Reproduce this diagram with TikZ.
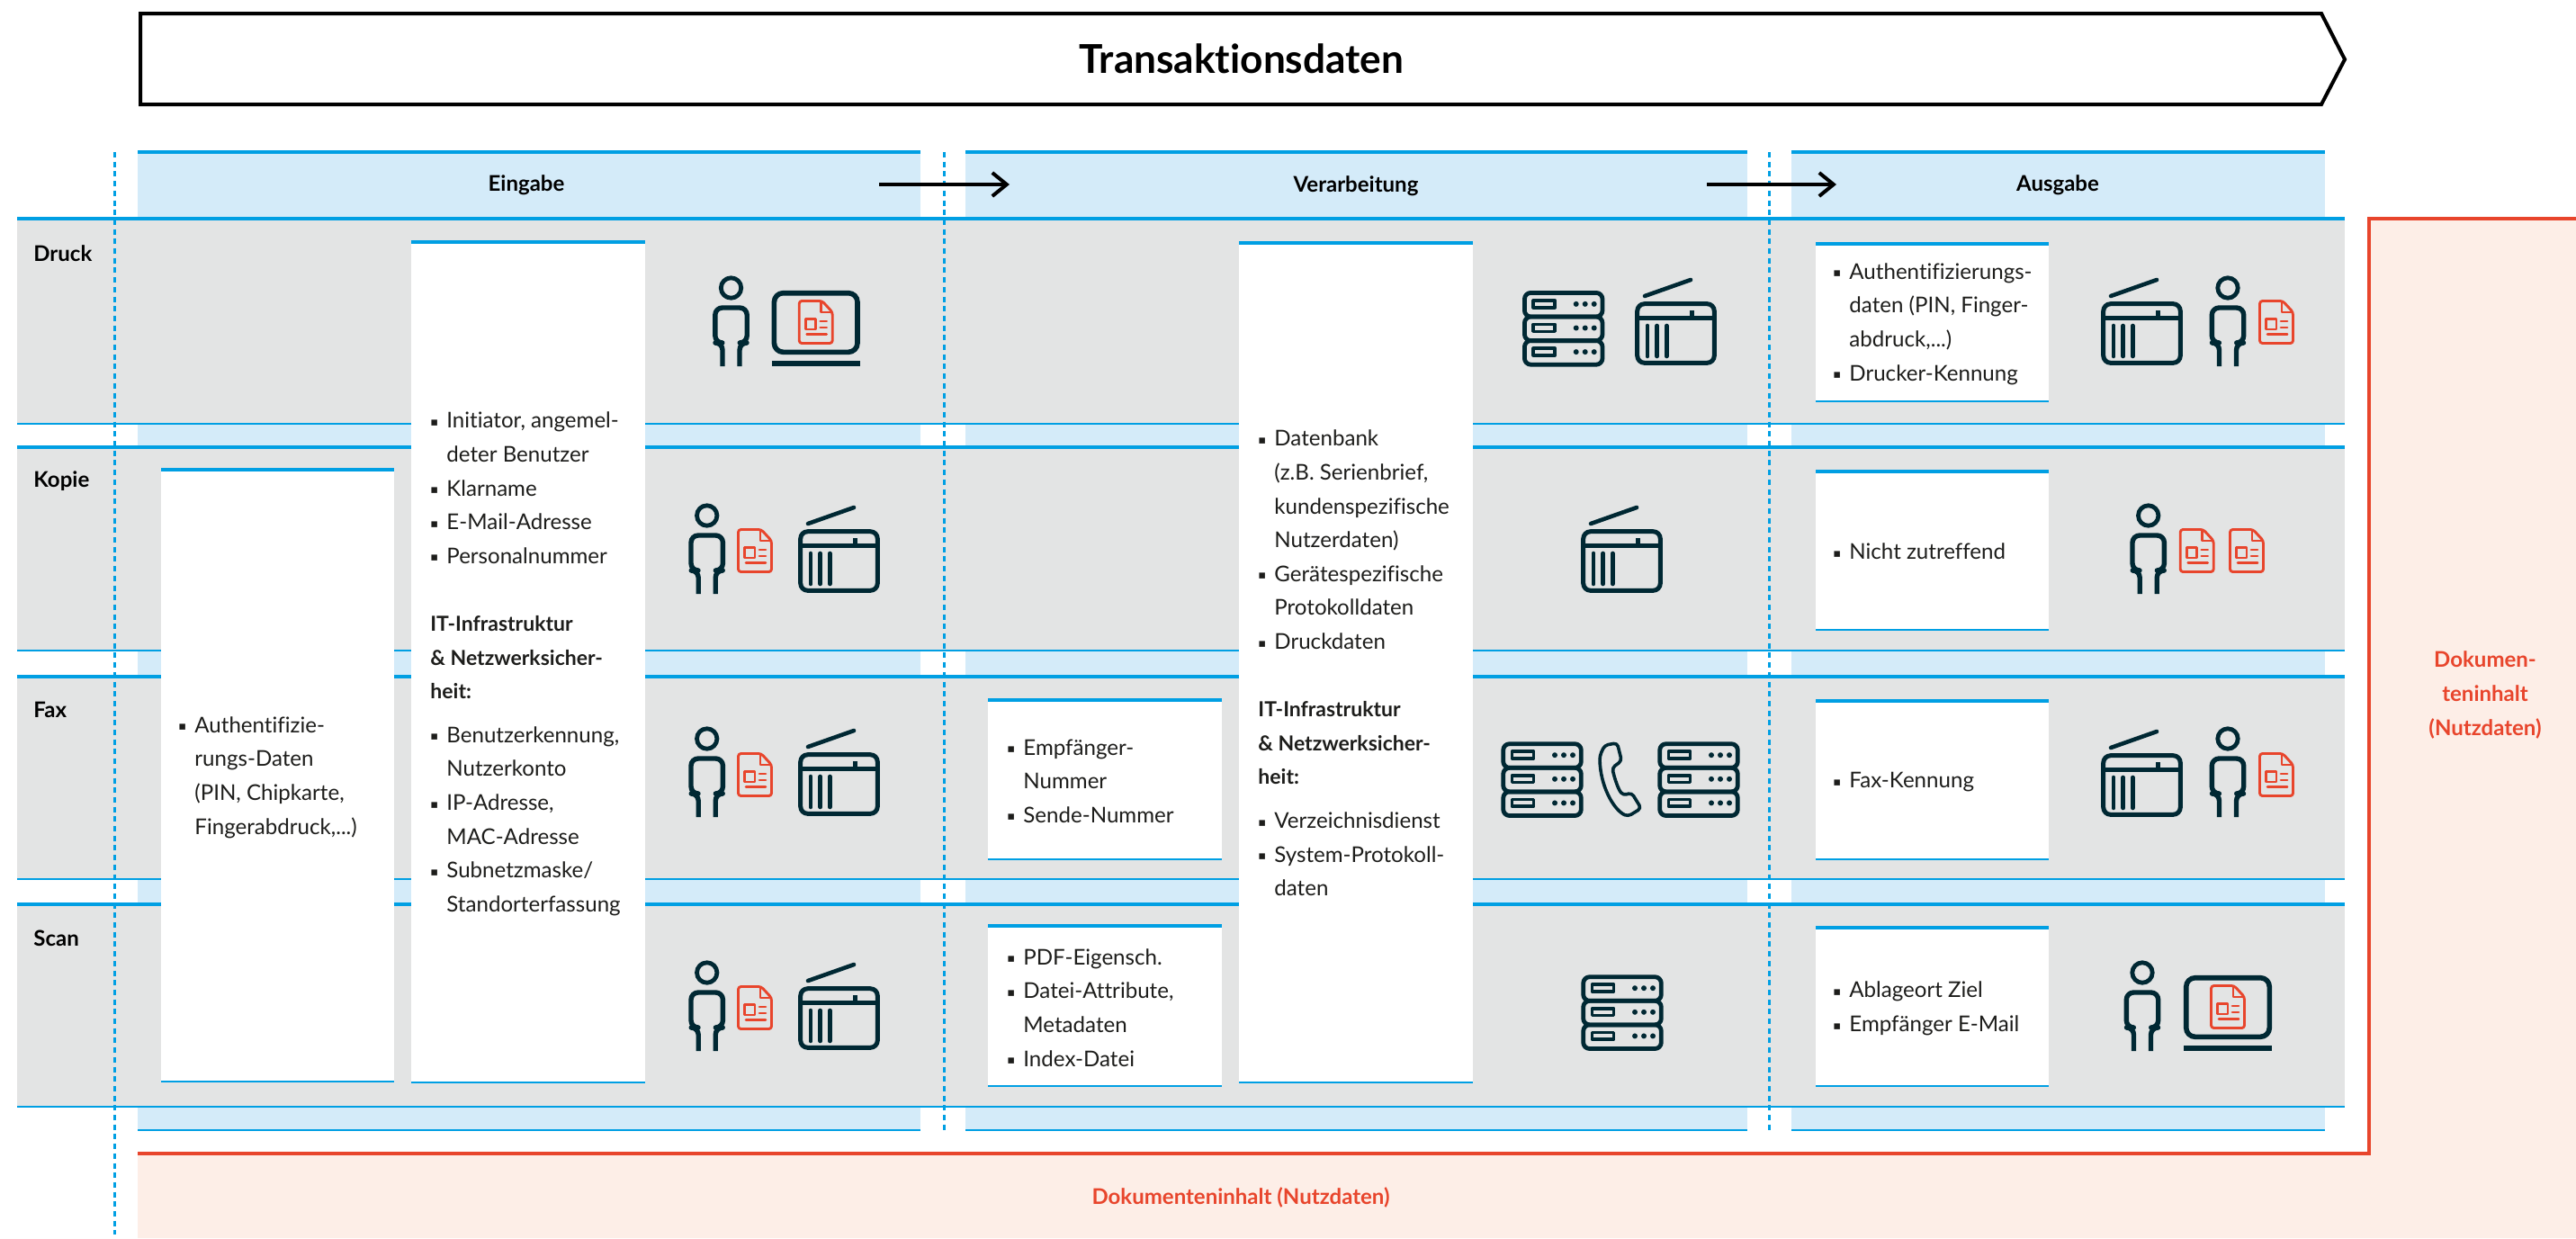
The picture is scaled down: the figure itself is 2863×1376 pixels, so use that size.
\documentclass[tikz,border=0pt]{standalone}
\usepackage{fontspec}
\setmainfont{Lato}[Ligatures=CommonOff]
\newfontfamily\djfont{DejaVu Sans}
\usetikzlibrary{arrows.meta}
\definecolor{cblue}{HTML}{009FE3}
\definecolor{clight}{HTML}{D4EBF9}
\definecolor{cgray}{HTML}{E3E4E4}
\definecolor{cpale}{HTML}{FDEEE7}
\definecolor{cred}{HTML}{E8452C}
\definecolor{cdark}{HTML}{002833}
\definecolor{ctext}{HTML}{1D1D1B}
\newcommand{\bu}{\makebox[9pt][l]{\raisebox{1.2pt}{\djfont\fontsize{6.5}{6.5}\selectfont ▪}}}
\newcommand{\ind}{\hspace*{9pt}}
\newcommand{\bh}[1]{{\fontsize{11.5}{18.8}\selectfont\bfseries #1}}
\tikzset{
  body/.style={anchor=west,inner sep=0pt,align=left,text=ctext,font=\fontsize{12.05}{18.8}\selectfont},
  lab/.style={inner sep=0pt,text=black,font=\fontsize{12}{18.8}\selectfont\bfseries},
  redlab/.style={inner sep=0pt,align=center,text=cred,font=\fontsize{12}{19}\selectfont\bfseries},
  icon/.style={draw=cdark,line width=2.5pt,line join=round},
  iconthin/.style={draw=cdark,line width=1.8pt,line join=round},
  docline/.style={draw=cred,line width=1.45pt,line join=round},
  pics/person/.style={code={
    \draw[icon,line width=2.4pt] (0,13) circle[radius=5.6pt];
    \draw[icon,line width=2.7pt,rounded corners=4pt] (-9.5,100) -- (-9.5,74) -- (-17.7,74) -- (-17.7,35) -- (17.7,35) -- (17.7,74) -- (9.5,74) -- (9.5,100);
  }},
  pics/docu/.style={code={
    \draw[docline,rounded corners=1.5pt] (1.5,1.5) -- (27,1.5) -- (38.5,14) -- (38.5,48.5) -- (1.5,48.5) -- cycle;
    \draw[docline] (26,1.5) -- (26,14) -- (38.5,14);
    \draw[docline] (8.5,21.5) rectangle (20,33);
    \draw[docline,line cap=round] (25,24) -- (32,24) (25,31) -- (32,31) (10,38.5) -- (32,38.5);
  }},
  pics/laptop/.style={code={
    \draw[icon,line width=2.8pt,rounded corners=5pt] (2.7,2.7) rectangle (95.3,68.3);
    \fill[cdark] (0,78) rectangle (98,84);
    \path (29,10) pic {docu};
  }},
  pics/scanner/.style={code={
    \draw[icon,rounded corners=4pt] (2.7,28.7) rectangle (88.3,94.3);
    \draw[icon] (2.7,44) -- (88.3,44) (63,36) -- (63,44);
    \draw[icon,line width=2.3pt,line cap=round] (11,20) -- (62,2);
    \draw[icon,line width=2.3pt,line cap=round] (14,53) -- (14,87) (24.7,53) -- (24.7,87) (35.3,53) -- (35.3,87);
  }},
  pics/server/.style={code={
    \foreach \yy in {0,26.6,53.2}{
      \begin{scope}[shift={(0,\yy)}]
        \draw[icon,line width=2.4pt,rounded corners=3.5pt] (2.7,2.7) rectangle (89.3,29.3);
        \draw[iconthin] (12.5,11.2) rectangle (36.5,19);
        \foreach \xx in {60,70,80}{\fill[cdark] (\xx,15.2) circle[radius=1.5pt];}
      \end{scope}
    }
  }},
}
\begin{document}
\begin{tikzpicture}[x=0.5pt,y=-0.5pt]
\useasboundingbox (0,0) rectangle (2863,1376);
% red zone
\fill[cpale] (153,1282) -- (2633,1282) -- (2633,243) -- (2863,243) -- (2863,1376) -- (153,1376) -- cycle;
\draw[cred,line width=2pt,line join=miter] (153,1282) -- (2633,1282) -- (2633,243) -- (2863,243);
% column backgrounds
\foreach \xa/\xb in {153/1023,1073/1942,1991/2584}{
  \fill[clight] (\xa,169) rectangle (\xb,1256);
  \draw[cblue,line width=1.8pt] (\xa,169) -- (\xb,169);
  \draw[cblue,line width=1pt] (\xa,1256) -- (\xb,1256);
}
% rows
\foreach \ya/\yb in {243/471,497/723,752/977,1005/1230}{
  \fill[cgray] (19,\ya) rectangle (2606,\yb);
  \draw[cblue,line width=1.8pt] (19,\ya) -- (2606,\ya);
  \draw[cblue,line width=1pt] (19,\yb) -- (2606,\yb);
}
% white boxes
\foreach \xa/\xb/\ya/\yb in {179/438/522/1202,457/717/269/1203,1377/1637/270/1203,1098/1358/778/955,1098/1358/1029/1207,2018/2277/271/446,2018/2277/524/700,2018/2277/779/955,2018/2277/1031/1207}{
  \fill[white] (\xa,\ya) rectangle (\xb,\yb);
  \draw[cblue,line width=1.8pt] (\xa,\ya) -- (\xb,\ya);
  \draw[cblue,line width=1pt] (\xa,\yb) -- (\xb,\yb);
}
% dashed separators
\foreach \xx/\yy in {127.7/1372,1049/1257,1966/1257}{
  \draw[cblue,line width=1.5pt,dash pattern=on 3pt off 2.35pt] (\xx,169) -- (\xx,\yy);
}
% title
\draw[black,line width=2pt,line join=miter,fill=white] (156,15) -- (2580,15) -- (2606,66) -- (2580,116) -- (156,116) -- cycle;
\node[inner sep=0pt,text=black,font=\fontsize{22.1}{26}\selectfont\bfseries] (title) at (1380,65) {Transaktionsdaten};
% arrows
\coordinate (a1s) at (977,205); \coordinate (a1e) at (1122,205);
\coordinate (a2s) at (1897,205); \coordinate (a2e) at (2041,205);
\draw[black,line width=2pt,-{Straight Barb[length=8pt,width=13pt]}] (a1s) -- (a1e);
\draw[black,line width=2pt,-{Straight Barb[length=8pt,width=13pt]}] (a2s) -- (a2e);
% headers
\node[lab] (h1) at (585,206) {Eingabe};
\node[lab] (h2) at (1507,207) {Verarbeitung};
\node[lab] (h3) at (2287,206) {Ausgabe};
% row labels
\node[lab,anchor=west] (r1) at (37,282) {Druck};
\node[lab,anchor=west] (r2) at (37,535) {Kopie};
\node[lab,anchor=west] (r3) at (37,789) {Fax};
\node[lab,anchor=west] (r4) at (37,1043) {Scan};
% box texts
\node[body] (ta) at (198,864) {\bu Authentifizie-\\\ind rungs-Daten\\\ind (PIN, Chipkarte,\\\ind Fingerabdruck,...)};
\node[body] (tb) at (478,738) {\bu Initiator, angemel-\\\ind deter Benutzer\\\bu Klarname\\\bu E-Mail-Adresse\\\bu Personalnummer\\[18.8pt]\bh{IT-Infrastruktur}\\\bh{\& Netzwerksicher-}\\\bh{heit:}\\[5.5pt]\bu Benutzerkennung,\\\ind Nutzerkonto\\\bu IP-Adresse,\\\ind MAC-Adresse\\\bu Subnetzmaske/\\\ind Standorterfassung};
\node[body] (tc) at (1398,737) {\bu Datenbank\\\ind (z.B. Serienbrief,\\\ind kundenspezifische\\\ind Nutzerdaten)\\\bu Gerätespezifische\\\ind Protokolldaten\\\bu Druckdaten\\[18.8pt]\bh{IT-Infrastruktur}\\\bh{\& Netzwerksicher-}\\\bh{heit:}\\[5.5pt]\bu Verzeichnisdienst\\\bu System-Protokoll-\\\ind daten};
\node[body] (td) at (1119,868) {\bu Empfänger-\\\ind Nummer\\\bu Sende-Nummer};
\node[body] (te) at (1119,1120) {\bu PDF-Eigensch.\\\bu Datei-Attribute,\\\ind Metadaten\\\bu Index-Datei};
\node[body] (tf) at (2037,360) {\bu Authentifizierungs-\\\ind daten (PIN, Finger-\\\ind abdruck,...)\\\bu Drucker-Kennung};
\node[body] (tg) at (2037,613) {\bu Nicht zutreffend};
\node[body] (th) at (2037,869) {\bu Fax-Kennung};
\node[body] (ti) at (2037,1121) {\bu Ablageort Ziel\\\bu Empfänger E-Mail};
% red labels
\node[redlab] (rl1) at (1379,1331) {Dokumenteninhalt (Nutzdaten)};
\node[redlab] (rl2) at (2762,772) {Dokumen-\\teninhalt\\(Nutzdaten)};
% icons row 1
\path (812.5,307) pic {person};
\path (857.7,323) pic {laptop};
\path (1691.7,322.7) pic {server};
\path (1817,309) pic {scanner};
\path (2335,309) pic {scanner};
\path (2476,307) pic {person};
\path (2510,333) pic {docu};
% row 2
\path (785.7,560) pic {person};
\path (819,587) pic {docu};
\path (887,562) pic {scanner};
\path (1757,562) pic {scanner};
\path (2387.7,560) pic {person};
\path (2421.7,587) pic {docu};
\path (2477,587) pic {docu};
% row 3
\path (785.7,808) pic {person};
\path (819,836) pic {docu};
\path (887,810) pic {scanner};
\path (1668,824) pic {server};
\path (1842,824) pic {server};
\begin{scope}[shift={(1650,780)},x=0.16667pt,y=-0.16667pt]
  \draw[icon,line width=1.8pt,rounded corners=2pt] (400,145) -- (442,137) -- (457,197) -- (425,220) .. controls (435,260) and (445,290) .. (462,312) -- (490,303) -- (522,355) -- (478,382) .. controls (430,360) and (385,280) .. (384,180) -- cycle;
\end{scope}
\path (2335,811) pic {scanner};
\path (2476,808) pic {person};
\path (2510,836) pic {docu};
% row 4
\path (785.7,1068) pic {person};
\path (819,1095) pic {docu};
\path (887,1070) pic {scanner};
\path (1757,1083) pic {server};
\path (2381,1068) pic {person};
\path (2427,1084) pic {laptop};
\end{tikzpicture}
\end{document}
